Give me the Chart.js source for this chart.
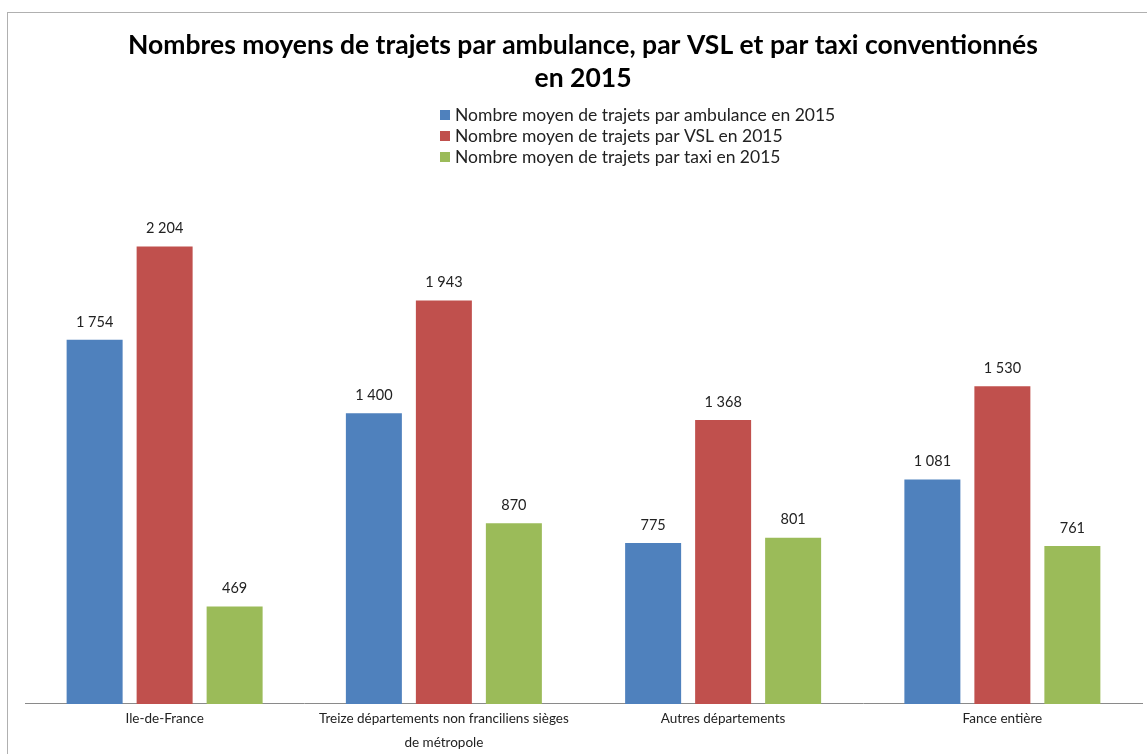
<!DOCTYPE html>
<html>
<head>
<meta charset="utf-8">
<script src="https://cdn.jsdelivr.net/npm/chart.js@4/dist/chart.umd.min.js"></script>
<style>
  html, body { margin: 0; padding: 0; background: #fff; overflow: hidden; }
  #frame { position: absolute; left: 7px; top: 12px; width: 1300px; height: 900px; border: 1px solid #b0b0b0; box-sizing: border-box; }
  #c { position: absolute; left: 0; top: 0; }
</style>
</head>
<body>
<div id="frame"></div>
<canvas id="c" width="1147" height="754"></canvas>
<script>
const titleLines = ["Nombres moyens de trajets par ambulance, par VSL et par taxi conventionnés", "en 2015"];
const categories = [["Ile-de-France"], ["Treize départements non franciliens sièges", "de métropole"], ["Autres départements"], ["Fance entière"]];
const seriesNames = ["Nombre moyen de trajets par ambulance en 2015", "Nombre moyen de trajets par VSL en 2015", "Nombre moyen de trajets par taxi en 2015"];
const ambulance = [1754, 1400, 775, 1081];
const vsl = [2204, 1943, 1368, 1530];
const taxi = [469, 870, 801, 761];
const seriesColors = ["#4F81BD", "#C0504D", "#9BBB59"];
const FONT = "Lato, 'Open Sans', sans-serif";

function fmt(v) { return String(v).replace(/\B(?=(\d{3})+(?!\d))/g, " "); }

const headerPlugin = {
  id: 'header',
  afterDraw(chart) {
    const ctx = chart.ctx;
    ctx.save();
    ctx.fillStyle = "#000";
    ctx.font = "bold 26.5px " + FONT;
    ctx.textAlign = "center";
    ctx.textBaseline = "middle";
    ctx.fillText(titleLines[0], 583, 45);
    ctx.fillText(titleLines[1], 583, 78);
    ctx.font = "17.5px " + FONT;
    ctx.textAlign = "left";
    const rows = [115, 136, 157];
    chart.data.datasets.forEach((ds, i) => {
      ctx.fillStyle = ds.backgroundColor;
      ctx.fillRect(440, rows[i] - 5, 10, 10);
      ctx.fillStyle = "#222";
      ctx.fillText(ds.label, 455, rows[i]);
    });
    ctx.restore();
  }
};

const labelPlugin = {
  id: 'valueLabels',
  afterDatasetsDraw(chart) {
    const ctx = chart.ctx;
    ctx.save();
    ctx.font = "14.5px " + FONT;
    ctx.fillStyle = "#222";
    ctx.textAlign = "center";
    ctx.textBaseline = "middle";
    chart.data.datasets.forEach((ds, i) => {
      const meta = chart.getDatasetMeta(i);
      meta.data.forEach((bar, j) => {
        ctx.fillText(fmt(ds.data[j]), bar.x, bar.y - 18);
      });
    });
    ctx.restore();
  }
};

new Chart(document.getElementById('c'), {
  type: 'bar',
  data: {
    labels: categories,
    datasets: [
      { label: seriesNames[0], data: ambulance, backgroundColor: seriesColors[0] },
      { label: seriesNames[1], data: vsl, backgroundColor: seriesColors[1] },
      { label: seriesNames[2], data: taxi, backgroundColor: seriesColors[2] }
    ]
  },
  options: {
    responsive: false,
    animation: false,
    devicePixelRatio: 1,
    layout: { padding: { top: 185, left: 25, right: 5, bottom: -4 } },
    datasets: { bar: { categoryPercentage: 0.752, barPercentage: 0.8 } },
    plugins: {
      legend: { display: false },
      title: { display: false },
      tooltip: { enabled: false }
    },
    scales: {
      y: { display: false, min: 0, max: 2500 },
      x: {
        grid: { display: false, drawTicks: false },
        border: { display: true, color: "#8a8a8a", width: 1 },
        ticks: {
          color: "#222",
          font: { family: FONT, size: 13.5, lineHeight: 1.78 },
          padding: 3,
          maxRotation: 0,
          autoSkip: false
        }
      }
    }
  },
  plugins: [headerPlugin, labelPlugin]
});
</script>
</body>
</html>
